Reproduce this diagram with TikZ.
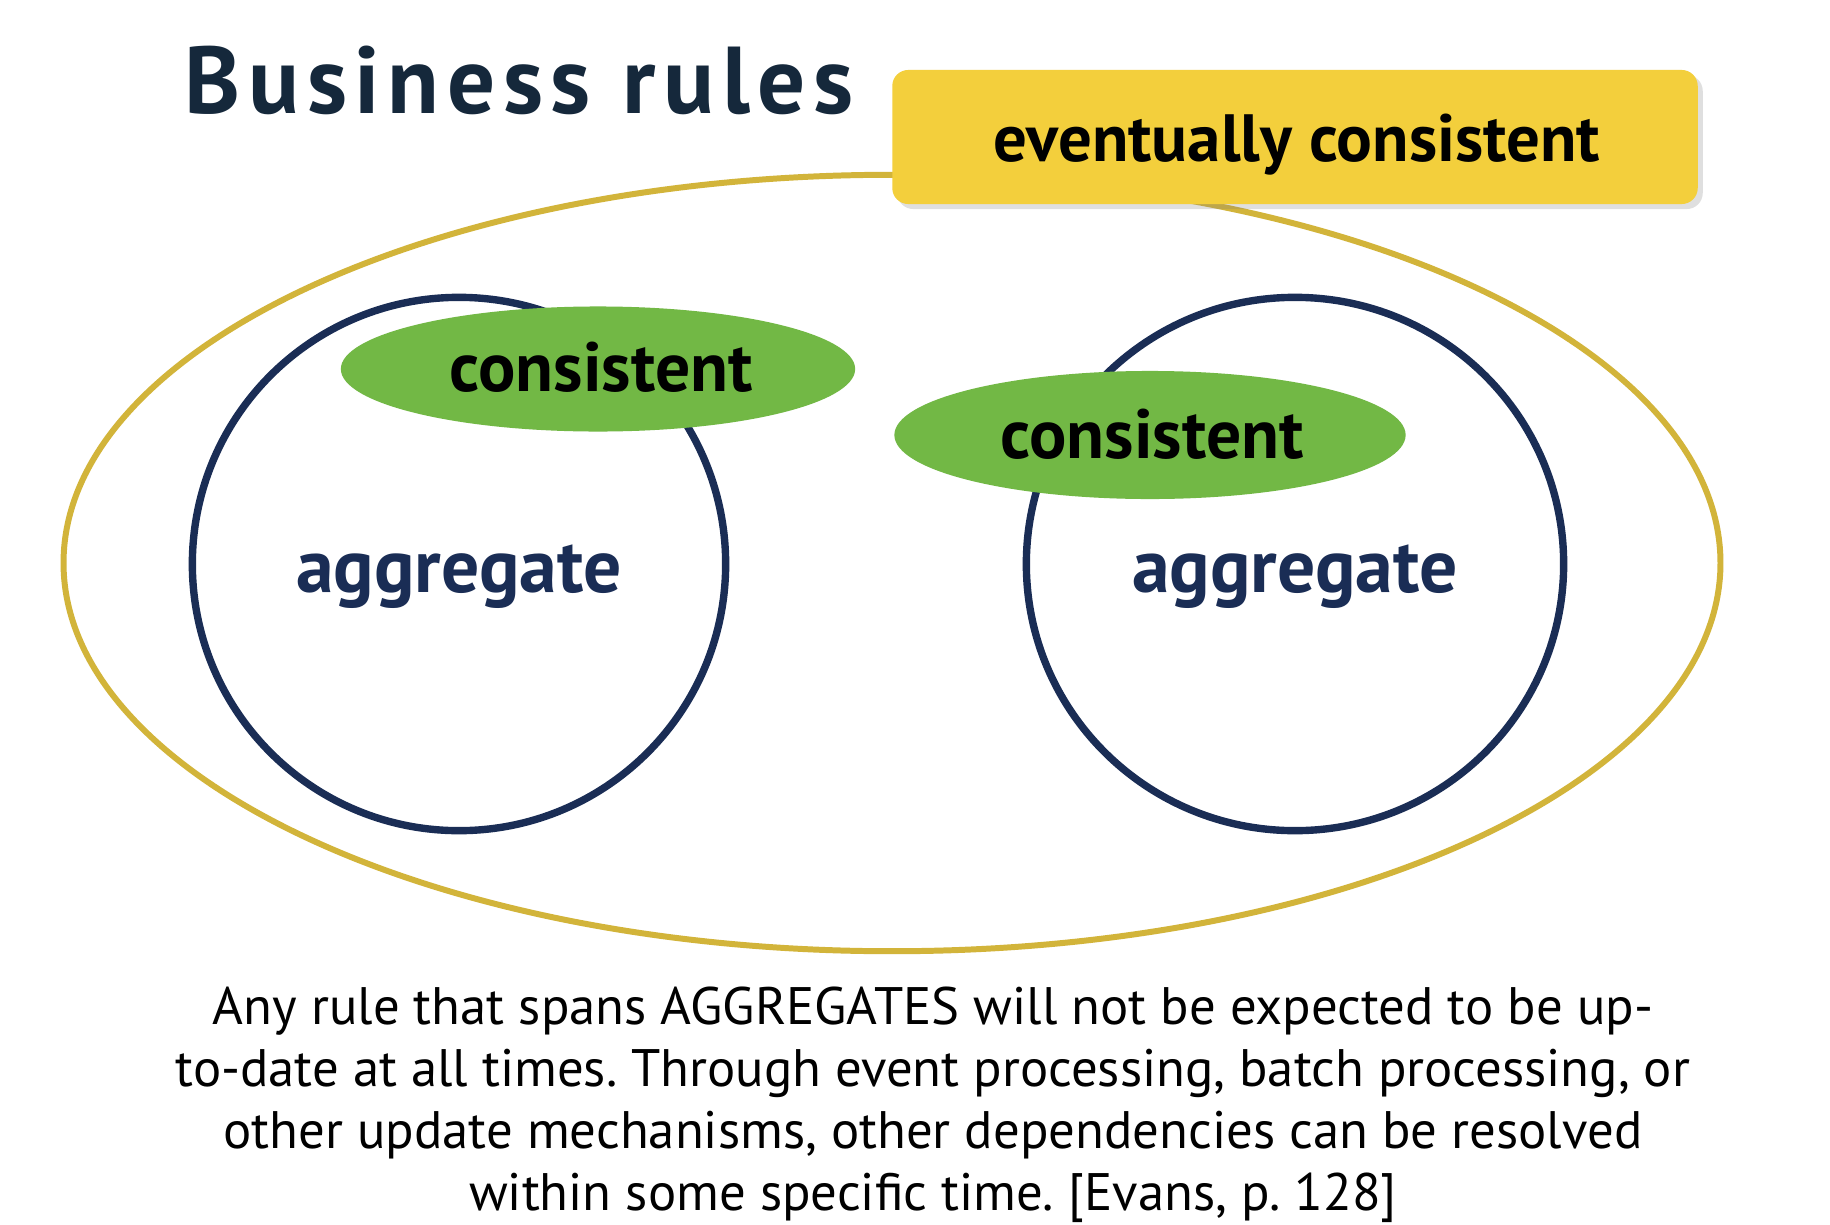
\documentclass[tikz,border=0pt]{standalone}
\usepackage{fontspec}
\setmainfont{PT Sans}
\usetikzlibrary{shapes.geometric,shadows}
\definecolor{gold}{HTML}{D2B43A}
\definecolor{navy}{HTML}{1A2D55}
\definecolor{leaf}{HTML}{72B845}
\definecolor{boxyellow}{HTML}{F3CF3C}
\definecolor{titlecol}{HTML}{15283B}
\tikzset{
  outerring/.style={ellipse, draw=gold, line width=1.7pt, inner sep=0pt},
  aggring/.style={ellipse, draw=navy, line width=2.1pt, inner sep=0pt},
  greenblob/.style={ellipse, fill=leaf, inner sep=0pt},
  agglbl/.style={font=\fontsize{21.5}{24}\selectfont\bfseries, text=navy},
  conlbl/.style={font=\fontsize{19.8}{22}\selectfont\bfseries, text=black},
}
\begin{document}
\frenchspacing
\begin{tikzpicture}[x=0.01cm,y=-0.01cm]
\useasboundingbox (0,0) rectangle (1830,1224);
\fill[white] (0,0) rectangle (1830,1224);
% outer ellipse
\node[outerring, minimum width=16.56cm, minimum height=7.76cm] (outer) at (892,563) {};
% aggregates
\node[aggring, minimum width=5.33cm, minimum height=5.33cm] (aggL) at (459,564) {};
\node[aggring, minimum width=5.37cm, minimum height=5.33cm] (aggR) at (1295,564) {};
\node[agglbl] (aggLt) at (459,577) {aggregate};
\node[agglbl] (aggRt) at (1295,577) {aggregate};
% consistent blobs
\node[greenblob, minimum width=5.14cm, minimum height=1.25cm] (conL) at (598,369) {};
\node[conlbl] (conLt) at (601,367) {consistent};
\node[greenblob, minimum width=5.11cm, minimum height=1.28cm] (conR) at (1150,435) {};
\node[conlbl] (conRt) at (1152,434) {consistent};
% eventually consistent box
\node[fill=boxyellow, rounded corners=0.16cm, minimum width=8.05cm, minimum height=1.34cm,
      drop shadow={opacity=0.25, shadow xshift=0.5mm, shadow yshift=-0.5mm}] (ev) at (1295,137) {};
\node[font=\fontsize{19}{21}\selectfont\bfseries, text=black] (evt) at (1297,145) {eventually consistent};
% title
\node[font=\fontsize{27}{30}\selectfont\bfseries\addfontfeature{LetterSpace=8}, text=titlecol,
      anchor=base west, inner sep=0pt] (title) at (184,113) {Business rules};
% caption
\node[align=center, font=\fontsize{15}{17.6}\selectfont, text=black] (cap) at (933,1105)
 {Any rule that spans AGGREGATES will not be expected to be up-\\
  to-date at all times. Through event processing, batch processing, or\\
  other update mechanisms, other dependencies can be resolved\\
  within some specific time. [Evans, p. 128]};
\end{tikzpicture}
\end{document}
